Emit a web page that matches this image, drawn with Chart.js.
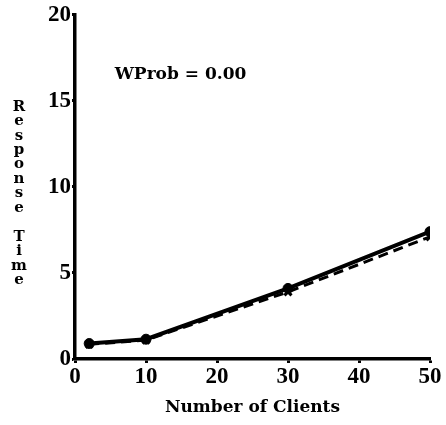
<!DOCTYPE html>
<html>
<head>
<meta charset="utf-8">
<script src="https://cdn.jsdelivr.net/npm/chart.js@4.4.1/dist/chart.umd.min.js"></script>
<style>
html,body{margin:0;padding:0;background:#fff;}
#wrap{width:446px;height:425px;position:relative;}
</style>
</head>
<body>
<div id="wrap"><canvas id="c" width="446" height="425"></canvas></div>
<script>
const clients = [2, 10, 30, 50];
const solidSeries = [0.9, 1.15, 4.1, 7.4];
const dashedSeries = [0.85, 1.1, 3.9, 7.1];
const xTicks = [0, 10, 20, 30, 40, 50];
const yTicks = [0, 5, 10, 15, 20];
const yTitle = "Response Time";
const xTitle = "Number of Clients";
const annotation = "WProb = 0.00";

const serif = "'DejaVu Serif', 'Liberation Serif', serif";
const tickSerif = "'Liberation Serif', 'DejaVu Serif', serif";

const textPlugin = {
  id: 'extraText',
  afterDraw(chart) {
    const ctx = chart.ctx;
    ctx.save();
    ctx.setTransform(1, 0, 0, 1, 0, 0);
    ctx.fillStyle = '#000';
    ctx.textBaseline = 'middle';
    const xs = chart.scales.x, ys = chart.scales.y;
    ctx.font = 'bold 17px ' + serif;
    ctx.textAlign = 'left';
    ctx.fillText(annotation, xs.getPixelForValue(5.6), ys.getPixelForValue(16.5));
    ctx.textAlign = 'center';
    ctx.font = 'bold 15px ' + serif;
    const words = yTitle.split(' ');
    let y = 107;
    const step = 14.4;
    words.forEach((w, wi) => {
      for (const ch of w) {
        ctx.fillText(ch, 19, y);
        y += step;
      }
      if (wi < words.length - 1) y += 15;
    });
    ctx.restore();
  }
};

new Chart(document.getElementById('c'), {
  type: 'line',
  data: {
    datasets: [
      {
        data: clients.map((x, i) => ({x, y: solidSeries[i]})),
        borderColor: '#000', backgroundColor: '#000',
        borderWidth: 4, pointStyle: 'circle', pointRadius: 5,
        pointBorderWidth: 1, tension: 0
      },
      {
        data: clients.map((x, i) => ({x, y: dashedSeries[i]})),
        borderColor: '#000', backgroundColor: '#000',
        borderWidth: 3, borderDash: [10, 6], pointStyle: 'crossRot', pointRadius: 5,
        pointBorderWidth: 3, tension: 0
      }
    ]
  },
  options: {
    responsive: false,
    animation: false,
    devicePixelRatio: 1,
    layout: { padding: { top: 14, right: 16, left: 0, bottom: 0 } },
    plugins: { legend: { display: false }, tooltip: { enabled: false }, title: { display: false } },
    scales: {
      x: {
        type: 'linear', min: 0, max: 50,
        afterBuildTicks(s) { s.ticks = xTicks.map(v => ({value: v})); },
        afterFit(s) { s.height = 66; },
        border: { display: true, color: '#000', width: 3.5 },
        grid: { drawOnChartArea: false, drawTicks: true, tickLength: 4, tickWidth: 3, tickColor: '#000' },
        ticks: { color: '#000', font: { family: tickSerif, weight: 'bold', size: 23 }, padding: 0, maxRotation: 0 },
        title: { display: true, text: xTitle, color: '#000', font: { family: serif, weight: 'bold', size: 17 }, padding: { top: 0, bottom: 7 } }
      },
      y: {
        type: 'linear', min: 0, max: 20,
        afterBuildTicks(s) { s.ticks = yTicks.map(v => ({value: v})); },
        afterFit(s) { s.width = 75; },
        border: { display: true, color: '#000', width: 3.5 },
        grid: { drawOnChartArea: false, drawTicks: true, tickLength: 3, tickWidth: 3, tickColor: '#000' },
        ticks: { color: '#000', font: { family: tickSerif, weight: 'bold', size: 23 }, padding: 1 },
        title: { display: false }
      }
    }
  },
  plugins: [textPlugin]
});
</script>
</body>
</html>
